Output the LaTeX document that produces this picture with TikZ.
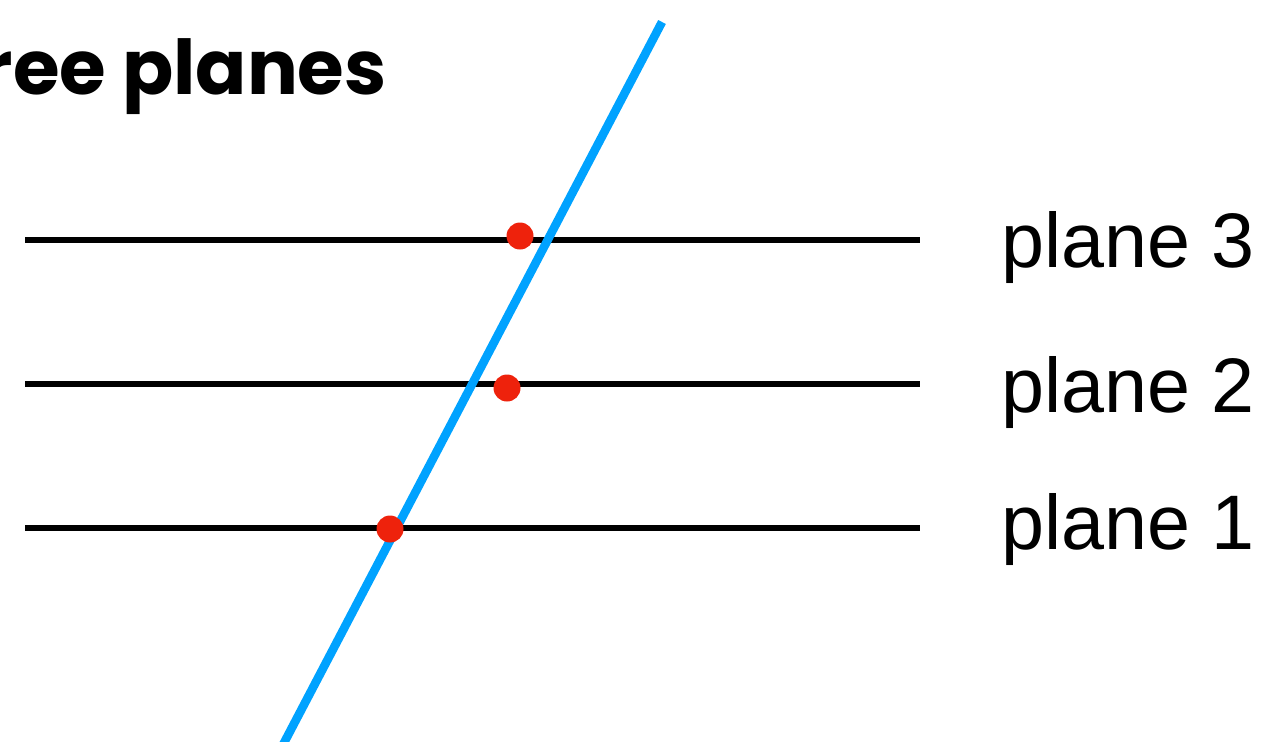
\documentclass[tikz,border=0pt]{standalone}
\usepackage{fontspec}
\setmainfont{Liberation Sans}
\newfontfamily\titlefont{Poppins}
\definecolor{rayblue}{HTML}{00A2FF}
\definecolor{hitred}{HTML}{EE220C}

\begin{document}
\begin{tikzpicture}[x=0.02cm,y=-0.02cm,
    planeline/.style={line width=3.1pt,black},
    ray/.style={line width=4.9pt,rayblue},
    hit/.style={circle,fill=hitred,inner sep=0pt,minimum size=0.54cm},
    planelabel/.style={anchor=base west,inner sep=0pt,font=\fontsize{44}{44}\selectfont}]
  \useasboundingbox (0,0) rectangle (1271,741);
  \clip (0,0) rectangle (1271,741);
  % title, cut off at the left edge
  \node[anchor=base east,inner sep=0pt,font=\titlefont\bfseries\fontsize{43}{43}\selectfont] (title) at (387,94) {ree planes};
  % the three planes, seen edge on
  \foreach \n/\y/\b in {1/528/549,2/384/412,3/240/267} {
    \coordinate (p\n w) at (25,\y);
    \coordinate (p\n e) at (920,\y);
    \draw[planeline] (p\n w) -- (p\n e);
    \node[planelabel] (lab\n) at (1001,\b) {plane \n};
  }
  % the line through them
  \coordinate (raytop) at (662,22);
  \coordinate (raybot) at (275,760);
  \draw[ray] (raybot) -- (raytop);
  % the points where it meets the planes
  \node[hit] (hit1) at (390,529) {};
  \node[hit] (hit2) at (507,388) {};
  \node[hit] (hit3) at (520,236) {};
\end{tikzpicture}
\end{document}
